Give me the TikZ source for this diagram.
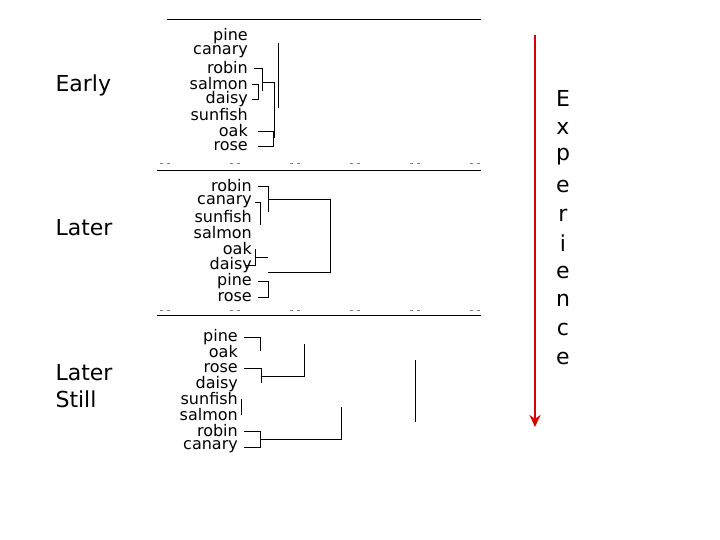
\documentclass[tikz,border=0pt]{standalone}
\usepackage{fontspec}
\setmainfont{DejaVu Sans}
\usetikzlibrary{arrows.meta}
\begin{document}
\begin{tikzpicture}[x=1pt,y=-1pt,
  big/.style={font=\fontsize{22}{27}\selectfont,anchor=west,align=left},
  lab/.style={font=\fontsize{16}{16}\selectfont,anchor=east,inner sep=0pt},
  ln/.style={line width=0.8pt},
  tk/.style={line width=0.6pt,gray,dash pattern=on 3pt off 4pt}]
\useasboundingbox (0,0) rectangle (720,540);
% left labels
\node[big] (e1) at (52,85) {Early};
\node[big] (e2) at (52,228) {Later};
\node[big,align=left] (e3) at (52,386) {Later\\Still};
% panel 1
\draw[ln] (167,19) -- (481,19);
\draw[ln] (157,170) -- (481,170);
\foreach \x in {160,230,290,350,410,470} \draw[tk] (\x,163) -- (\x+12,163);
\foreach \t/\y in {pine/36,canary/52,robin/68,salmon/84,daisy/99,sunfish/115,oak/131,rose/146}
  \node[lab] (a\t) at (248,\y) {\t};
\draw[ln] (254,68) -- (262,68) -- (262,91);
\draw[ln] (252,84) -- (258,84) -- (258,99) -- (252,99);
\draw[ln] (262,82) -- (274,82) -- (274,138);
\draw[ln] (258,131) -- (273,131) -- (273,146) -- (258,146);
\draw[ln] (278,43) -- (278,108);
% panel 2
\draw[ln] (157,315) -- (481,315);
\foreach \x in {160,230,290,350,410,470} \draw[tk] (\x,310) -- (\x+12,310);
\foreach \t/\y in {robin/186,canary/202,sunfish/217,salmon/233,oak/249,daisy/265,pine/281,rose/297}
  \node[lab] (b\t) at (252,\y) {\t};
\draw[ln] (258,186) -- (268,186) -- (268,212);
\draw[ln] (255,202) -- (260,202) -- (260,225);
\draw[ln] (268,199) -- (330,199) -- (330,272) -- (268,272);
\draw[ln] (255,249) -- (255,265) -- (245,265);
\draw[ln] (255,257) -- (268,257);
\draw[ln] (258,281) -- (268,281) -- (268,297) -- (258,297);
% panel 3
\foreach \t/\y in {pine/337,oak/352,rose/368,daisy/384,sunfish/399,salmon/415,robin/431,canary/447}
  \node[lab] (c\t) at (238,\y) {\t};
\draw[ln] (244,337) -- (260,337) -- (260,351);
\draw[ln] (244,368) -- (261,368) -- (261,383);
\draw[ln] (261,376) -- (304,376) -- (304,344);
\draw[ln] (241,399) -- (241,415);
\draw[ln] (244,431) -- (260,431) -- (260,447) -- (244,447);
\draw[ln] (260,439) -- (341,439) -- (341,407);
\draw[ln] (415,360) -- (415,422);
% arrow
\coordinate (s) at (535,35);
\coordinate (t) at (535,427);
\draw[red!85!black,line width=2pt,-{Stealth[length=12pt,width=11pt]}] (s) -- (t);
\foreach \l/\y [count=\i] in {E/98,x/128,p/157,e/186,r/215,i/243,e/272,n/300,c/329,e/358}
  \node[font=\fontsize{22}{26}\selectfont] (x\i) at (563,\y) {\l};
\end{tikzpicture}
\end{document}
